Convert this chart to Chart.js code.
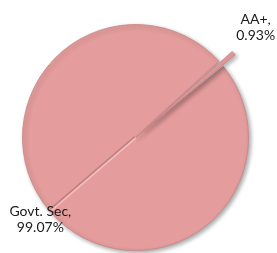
<!DOCTYPE html>
<html>
<head>
<meta charset="utf-8">
<script src="https://cdn.jsdelivr.net/npm/chart.js@4/dist/chart.umd.min.js"></script>
<style>
  html, body { margin: 0; padding: 0; background: #ffffff; }
  #wrap { width: 277px; height: 253px; position: relative; }
</style>
</head>
<body>
<div id="wrap"><canvas id="c" width="277" height="253"></canvas></div>
<script>
const categories = ['Govt. Sec', 'AA+'];
const values = [99.07, 0.93];
const valueLabels = ['99.07%', '0.93%'];

const sliceColor = '#E49C9C';

const labelPlugin = {
  id: 'sliceLabels',
  afterDatasetsDraw(chart, args, opts) {
    const ctx = chart.ctx;
    const meta = chart.getDatasetMeta(0);
    ctx.save();
    ctx.font = opts.font;
    ctx.fillStyle = opts.color;
    ctx.textAlign = 'center';
    ctx.textBaseline = 'middle';
    meta.data.forEach((arc, i) => {
      const p = arc.getProps(['x', 'y', 'startAngle', 'endAngle', 'outerRadius'], true);
      const mid = (p.startAngle + p.endAngle) / 2 + opts.angleShift[i];
      const d = p.outerRadius * opts.distance[i];
      const cx = p.x + Math.cos(mid) * d;
      const cy = p.y + Math.sin(mid) * d;
      const lines = [categories[i] + ',', valueLabels[i]];
      const lh = opts.lineHeight;
      lines.forEach((t, k) => {
        ctx.fillText(t, cx, cy + (k - (lines.length - 1) / 2) * lh);
      });
    });
    ctx.restore();
  }
};

// soft drop shadow + bevel ridge along the big slice's bisector
const shadowPlugin = {
  id: 'sliceShadow',
  beforeDatasetDraw(chart) {
    const ctx = chart.ctx;
    ctx.save();
    ctx.shadowColor = 'rgba(0,0,0,0.35)';
    ctx.shadowBlur = 4;
    ctx.shadowOffsetX = 2;
    ctx.shadowOffsetY = 2;
  },
  afterDatasetDraw(chart) {
    const ctx = chart.ctx;
    ctx.restore();
    const arc = chart.getDatasetMeta(0).data[0];
    const p = arc.getProps(['x', 'y', 'startAngle', 'endAngle', 'outerRadius'], true);
    const mid = (p.startAngle + p.endAngle) / 2;
    const ux = Math.cos(mid), uy = Math.sin(mid);
    const nx = -uy, ny = ux;
    const len = p.outerRadius - 2;
    ctx.save();
    ctx.lineCap = 'butt';
    ctx.strokeStyle = 'rgba(150,110,110,0.55)';
    ctx.lineWidth = 1.5;
    ctx.beginPath();
    ctx.moveTo(p.x + nx * 1.2, p.y + ny * 1.2);
    ctx.lineTo(p.x + ux * len + nx * 1.2, p.y + uy * len + ny * 1.2);
    ctx.stroke();
    ctx.strokeStyle = 'rgba(248,190,190,0.9)';
    ctx.lineWidth = 1.6;
    ctx.beginPath();
    ctx.moveTo(p.x - nx * 0.6, p.y - ny * 0.6);
    ctx.lineTo(p.x + ux * len - nx * 0.6, p.y + uy * len - ny * 0.6);
    ctx.stroke();
    ctx.restore();
  }
};

function sliceFill(context) {
  const chart = context.chart;
  const arc = context.element;
  if (!arc || !chart.chartArea) return sliceColor;
  const p = arc.getProps(['x', 'y', 'outerRadius'], true);
  if (!p.outerRadius) return sliceColor;
  const g = chart.ctx.createRadialGradient(p.x, p.y, 0, p.x, p.y, p.outerRadius);
  g.addColorStop(0, '#E49D9D');
  g.addColorStop(0.9, '#E39A9A');
  g.addColorStop(0.97, '#E9A8A8');
  g.addColorStop(1, '#DE9494');
  return g;
}

new Chart(document.getElementById('c'), {
  type: 'pie',
  data: {
    labels: categories,
    datasets: [{
      data: values,
      backgroundColor: sliceFill,
      borderColor: '#C98484',
      borderWidth: 0.8,
      offset: [0, 34],
      hoverOffset: 0
    }]
  },
  options: {
    responsive: false,
    animation: false,
    rotation: 51,
    radius: 113,
    layout: { padding: { top: 22, bottom: 0, left: 0, right: 6 } },
    plugins: {
      legend: { display: false },
      tooltip: { enabled: false },
      sliceLabels: {
        font: '14px Lato, "Liberation Sans", sans-serif',
        color: '#1a1a1a',
        lineHeight: 16,
        distance: [1.11, 1.44],
        angleShift: [0, -0.03]
      }
    }
  },
  plugins: [shadowPlugin, labelPlugin]
});
</script>
</body>
</html>
